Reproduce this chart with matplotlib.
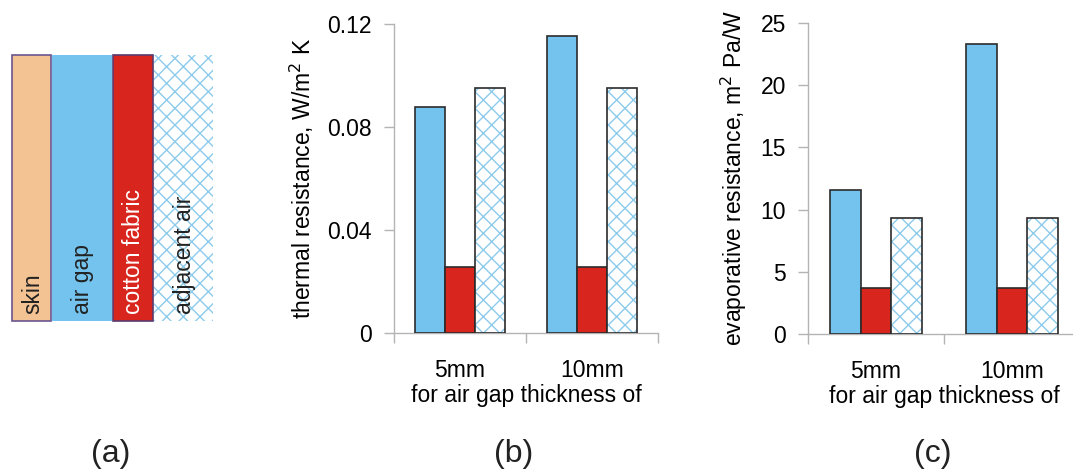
import numpy as np
import matplotlib
matplotlib.use("Agg")
import matplotlib.pyplot as plt
from matplotlib.patches import Rectangle

plt.rcParams["font.family"] = ["Liberation Sans", "DejaVu Sans"]
plt.rcParams["hatch.linewidth"] = 1.0

# data
gaps = ["5mm", "10mm"]
layers = ["skin", "air gap", "cotton fabric", "adjacent air"]
thermal_air_gap = [0.0878, 0.1155]
thermal_fabric = [0.0256, 0.0256]
thermal_adjacent = [0.0951, 0.0951]
evap_air_gap = [11.54, 23.29]
evap_fabric = [3.67, 3.67]
evap_adjacent = [9.34, 9.34]

# colours
c_skin = "#f3c393"
c_air = "#74c3ee"
c_fabric = "#d8251e"
c_hatch = "#8ccbeb"
c_edge = "#2b2b2b"
c_axis = "#b4b4b4"
fs = 16.5

W, H = 1073, 470
fig = plt.figure(figsize=(W / 100, H / 100), dpi=100)


def px_axes(left, top, right, bottom):
    return fig.add_axes([left / W, 1 - bottom / H, (right - left) / W, (bottom - top) / H])


# (a) schematic of the layers
ax_a = fig.add_axes([0, 0, 1, 1])
ax_a.set_xlim(0, W)
ax_a.set_ylim(H, 0)
ax_a.axis("off")
layer_x = [(12, 51), (52, 112), (113, 153), (154, 213)]
layer_face = [c_skin, c_air, c_fabric, "white"]
layer_edge = ["#6b5590", "none", "#5b3a6e", "none"]
layer_hatch = [None, None, None, "xx"]
layer_text = ["#222222", "#222222", "white", "#222222"]
for (x0, x1), name, fc, ec, hc, tc in zip(layer_x, layers, layer_face, layer_edge, layer_hatch, layer_text):
    if hc:
        ax_a.add_patch(Rectangle((x0, 55), x1 - x0, 266, facecolor="white",
                                 edgecolor=c_hatch, hatch=hc, linewidth=0))
    else:
        ax_a.add_patch(Rectangle((x0, 55), x1 - x0, 266, facecolor=fc,
                                 edgecolor=ec, linewidth=1.2))
    ax_a.text((x0 + x1) / 2 + 1, 314, name, rotation=90, ha="center", va="bottom",
              fontsize=fs, color=tc)


def bar_panel(ax, vals, ymax, yticks, yticklabels, ylabel, width):
    x = np.arange(len(gaps)) + 0.5
    ax.bar(x - width, vals[0], width, color=c_air, edgecolor=c_edge, linewidth=1.2, zorder=3)
    ax.bar(x, vals[1], width, color=c_fabric, edgecolor=c_edge, linewidth=1.2, zorder=3)
    ax.bar(x + width, vals[2], width, color="white", edgecolor=c_hatch, hatch="xx",
           linewidth=0, zorder=3)
    ax.bar(x + width, vals[2], width, fill=False, edgecolor=c_edge, linewidth=1.2, zorder=4)
    ax.set_xlim(0, len(gaps))
    ax.set_ylim(0, ymax)
    ax.set_yticks(yticks)
    ax.set_yticklabels(yticklabels)
    ax.set_xticks(np.arange(len(gaps) + 1))
    ax.set_xticklabels([])
    ax.set_xticks(x, minor=True)
    ax.set_xticklabels(gaps, minor=True)
    ax.tick_params(axis="x", which="major", length=7, color=c_axis, width=1)
    ax.tick_params(axis="x", which="minor", length=0, pad=19, labelsize=fs)
    ax.tick_params(axis="y", length=7, color=c_axis, width=1, pad=9, labelsize=fs)
    for s in ["top", "right"]:
        ax.spines[s].set_visible(False)
    for s in ["left", "bottom"]:
        ax.spines[s].set_color(c_axis)
        ax.spines[s].set_linewidth(1)
    ax.set_xlabel("for air gap thickness of", fontsize=fs, labelpad=1)
    ax.set_ylabel(ylabel, fontsize=fs, labelpad=8)
    ax.patch.set_alpha(0)


ax_b = px_axes(394, 24, 658, 333)
bar_panel(ax_b, [thermal_air_gap, thermal_fabric, thermal_adjacent], 0.12,
          [0, 0.04, 0.08, 0.12], ["0", "0.04", "0.08", "0.12"],
          "thermal resistance, W/m$^{2}$ K", 0.227)

ax_c = px_axes(808, 23, 1080, 334)
bar_panel(ax_c, [evap_air_gap, evap_fabric, evap_adjacent], 25,
          [0, 5, 10, 15, 20, 25], ["0", "5", "10", "15", "20", "25"],
          "evaporative resistance, m$^{2}$ Pa/W", 0.224)

for lbl, xc in zip(["(a)", "(b)", "(c)"], [111, 514, 933]):
    ax_a.text(xc, 454, lbl, ha="center", va="center", fontsize=23, color="#222222")

fig.savefig("out.png", dpi=100)
